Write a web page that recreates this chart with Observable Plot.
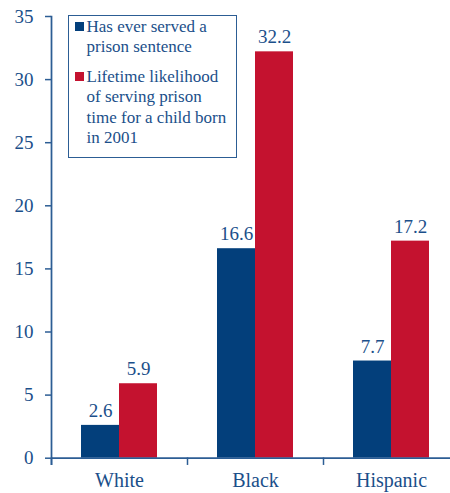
<!DOCTYPE html>
<html>
<head>
<meta charset="utf-8">
<script src="https://cdn.jsdelivr.net/npm/d3@7"></script>
<script src="https://cdn.jsdelivr.net/npm/@observablehq/plot@0.6"></script>
<style>
html, body { margin: 0; padding: 0; background: #fff; overflow: hidden; }
#wrap { position: relative; width: 450px; height: 493px; overflow: hidden; }
#wrap svg { display: block; max-width: none !important; }
#legend {
  position: absolute; left: 68px; top: 15px; width: 169px; height: 143px;
  box-sizing: border-box; border: 1.5px solid #2c5d94; background: #fff;
  font-family: "Liberation Serif", "Times New Roman", serif; font-size: 17px;
  line-height: 20.5px; color: #1b4f8a; padding-top: 0.5px;
}
#legend .item { position: relative; padding-left: 17.5px; }
#legend .item + .item { margin-top: 9px; }
#legend .sw { position: absolute; left: 6px; top: 5.7px; width: 8.5px; height: 8.5px; }
</style>
</head>
<body>
<div id="wrap"><div id="legend"></div></div>
<script>
// ---- data ----
const races = ["White", "Black", "Hispanic"];
const seriesNames = [
  "Has ever served a prison sentence",
  "Lifetime likelihood of serving prison time for a child born in 2001"
];
const seriesLegendLines = [
  ["Has ever served a", "prison sentence"],
  ["Lifetime likelihood", "of serving prison", "time for a child born", "in 2001"]
];
const everServed = [2.6, 16.6, 7.7];
const lifetimeLikelihood = [5.9, 32.2, 17.2];
const yTicks = [0, 5, 10, 15, 20, 25, 30, 35];
const seriesColors = ["#033f7b", "#c4122f"];

const TEXT = "#1b4f8a";
const AXIS = "#2c5d94";
const FONT = '"Liberation Serif", "Times New Roman", serif';

const rows = races.flatMap((race, i) => [
  {race, series: seriesNames[0], value: everServed[i]},
  {race, series: seriesNames[1], value: lifetimeLikelihood[i]}
]);

const W = 459, H = 493, MT = 16, MB = 35.3, ML = 51;

const chart = Plot.plot({
  width: W, height: H,
  marginLeft: ML, marginRight: 0, marginTop: MT, marginBottom: MB,
  style: {fontFamily: FONT, color: TEXT, background: "transparent", maxWidth: "none"},
  fx: {domain: races, padding: 0, label: null},
  x: {domain: seriesNames, paddingInner: 0, paddingOuter: 0.766, axis: null},
  y: {domain: [0, 35], axis: null},
  color: {domain: seriesNames, range: seriesColors},
  marks: [
    Plot.barY(rows, {fx: "race", x: "series", y: "value", fill: "series"}),
    Plot.text(rows, {fx: "race", x: "series", y: "value", text: d => d.value.toFixed(1),
      lineAnchor: "bottom", dy: -8.5, fontSize: 19, fontFamily: FONT, fill: TEXT}),
    Plot.ruleY([0], {stroke: AXIS, strokeWidth: 1.75}),
    Plot.frame({anchor: "left", facet: "super", insetBottom: -6, stroke: AXIS, strokeWidth: 1.75}),
    Plot.frame({anchor: "left", insetTop: H - MT - MB, insetBottom: -6, stroke: AXIS, strokeWidth: 1.5}),
    Plot.axisY({ticks: yTicks, tickSize: 6, tickPadding: 12, fontSize: 19, fontFamily: FONT, label: null, stroke: AXIS, strokeWidth: 1.5}),
    Plot.axisFx({anchor: "bottom", tickSize: 0, tickPadding: 15, fontSize: 20, fontFamily: FONT, label: null})
  ]
});

document.getElementById("wrap").prepend(chart);

// legend overlay (inside plot area)
const legend = d3.select("#legend");
seriesLegendLines.forEach((lines, i) => {
  const item = legend.append("div").attr("class", "item");
  item.append("span").attr("class", "sw").style("background", seriesColors[i]);
  item.append("span").html(lines.join("<br>"));
});
</script>
</body>
</html>
